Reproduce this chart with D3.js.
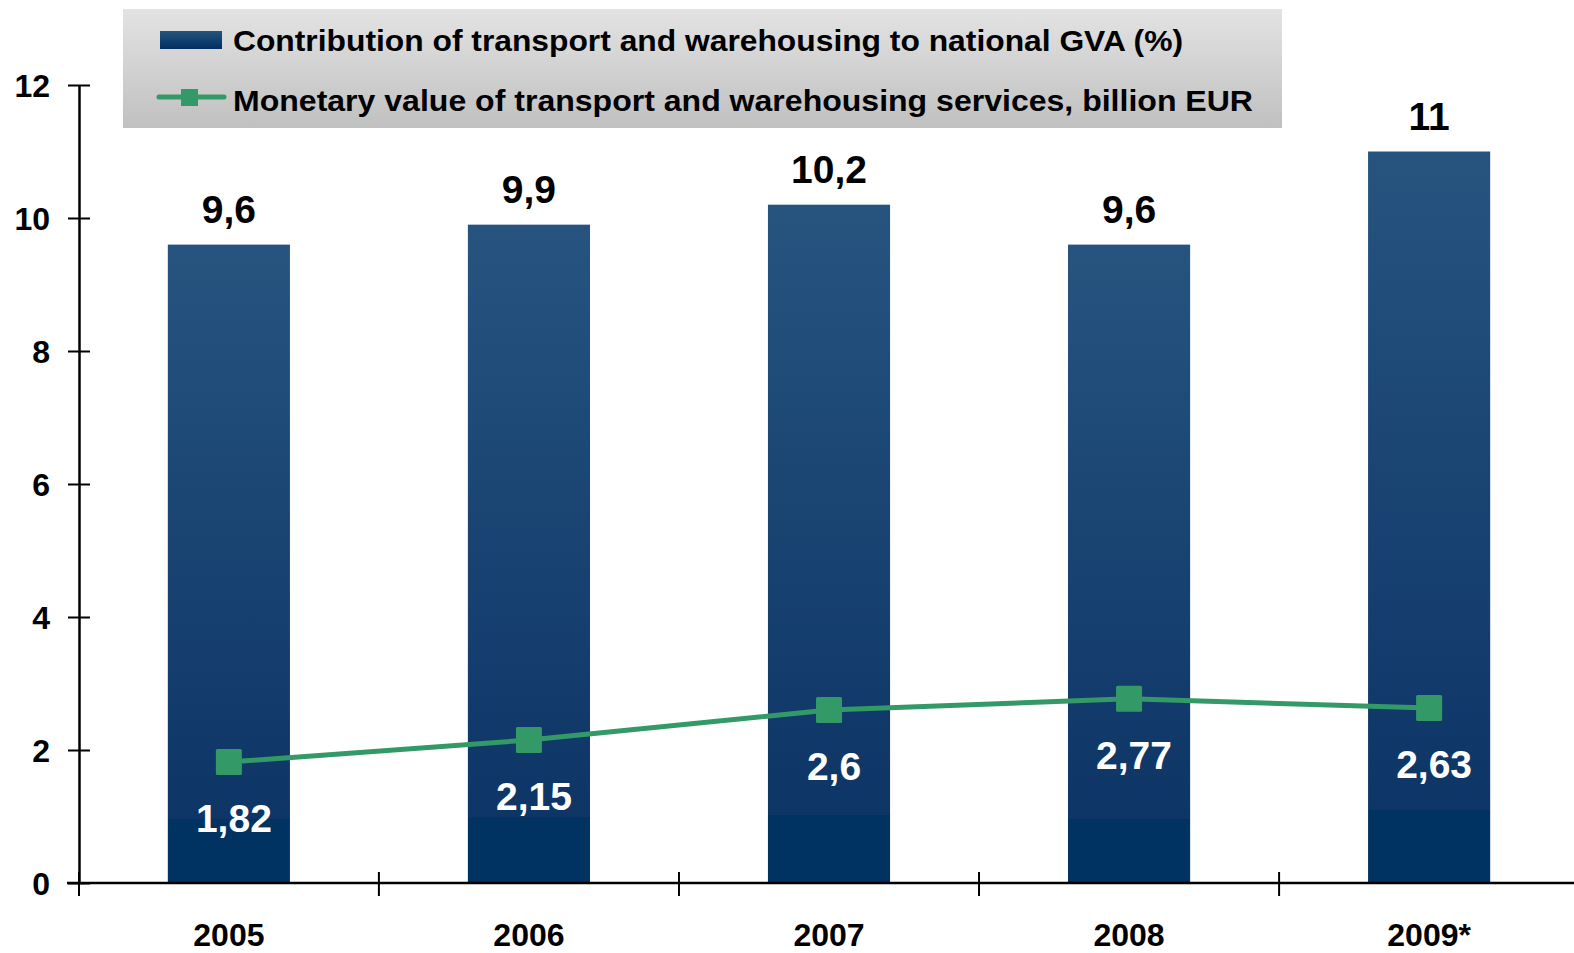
<!DOCTYPE html>
<html>
<head>
<meta charset="utf-8">
<script src="https://cdn.jsdelivr.net/npm/d3@7"></script>
<style>
  body { margin: 0; background: #fff; }
  svg { display: block; font-family: "Liberation Sans", Arial, sans-serif; font-weight: bold; }
</style>
</head>
<body>
<div id="chart"></div>
<script>
const width = 1574
const height = 953
const margin = ({top: 85, right: -5, bottom: 70, left: 79})

const years = ["2005", "2006", "2007", "2008", "2009*"]
const gvaShare = [9.6, 9.9, 10.2, 9.6, 11]
const gvaLabels = ["9,6", "9,9", "10,2", "9,6", "11"]
const monetary = [1.82, 2.15, 2.6, 2.77, 2.63]
const monetaryLabels = ["1,82", "2,15", "2,6", "2,77", "2,63"]
const yTicks = [0, 2, 4, 6, 8, 10, 12]
const legendNames = [
  "Contribution of transport and warehousing to national GVA (%)",
  "Monetary value of transport and warehousing services, billion EUR"
]

const lineColor = "#339966"

const y = d3.scaleLinear()
  .domain([0, 12])
  .range([height - margin.bottom, margin.top])

const x = d3.scaleBand()
  .domain(years)
  .range([margin.left, width - margin.right])
  .paddingInner(0.593)
  .paddingOuter(0.296)

const svg = d3.select("#chart")
  .append("svg")
  .attr("width", width)
  .attr("height", height)
  .attr("viewBox", [0, 0, width, height])

const defs = svg.append("defs")
const barGrad = defs.append("linearGradient")
  .attr("id", "barGrad")
  .attr("x1", 0).attr("y1", 0).attr("x2", 0).attr("y2", 1)
barGrad.append("stop").attr("offset", "0%").attr("stop-color", "#26547f")
barGrad.append("stop").attr("offset", "90%").attr("stop-color", "#0d3566")
barGrad.append("stop").attr("offset", "90%").attr("stop-color", "#003262")
barGrad.append("stop").attr("offset", "100%").attr("stop-color", "#003262")

const legGrad = defs.append("linearGradient")
  .attr("id", "legGrad")
  .attr("x1", 0).attr("y1", 0).attr("x2", 0).attr("y2", 1)
legGrad.append("stop").attr("offset", "0%").attr("stop-color", "#e3e3e3")
legGrad.append("stop").attr("offset", "100%").attr("stop-color", "#c0c0c0")

const swatchGrad = defs.append("linearGradient")
  .attr("id", "swatchGrad")
  .attr("x1", 0).attr("y1", 0).attr("x2", 0).attr("y2", 1)
swatchGrad.append("stop").attr("offset", "0%").attr("stop-color", "#26547f")
swatchGrad.append("stop").attr("offset", "100%").attr("stop-color", "#002f60")

// bars
svg.append("g")
  .selectAll("rect")
  .data(years)
  .join("rect")
    .attr("fill", "url(#barGrad)")
    .attr("x", d => x(d))
    .attr("y", (d, i) => y(gvaShare[i]))
    .attr("width", x.bandwidth())
    .attr("height", (d, i) => y(0) - y(gvaShare[i]))

// bar value labels
svg.append("g")
  .selectAll("text")
  .data(years)
  .join("text")
    .attr("x", d => x(d) + x.bandwidth() / 2)
    .attr("y", (d, i) => y(gvaShare[i]) - 22)
    .attr("text-anchor", "middle")
    .attr("font-size", 39)
    .attr("fill", "#000")
    .text((d, i) => gvaLabels[i])

// axes
const yAxis = g => g
  .attr("transform", `translate(${margin.left},0)`)
  .call(d3.axisLeft(y).tickValues(yTicks).tickSize(11).tickSizeOuter(0).tickPadding(18))
  .call(g => g.select(".domain").attr("stroke", "#000").attr("stroke-width", 2.5))
  .call(g => g.selectAll(".tick line").attr("x1", 11).attr("stroke", "#000").attr("stroke-width", 2))
  .call(g => g.selectAll(".tick text")
    .attr("font-size", 32)
    .attr("font-family", "Liberation Sans, Arial, sans-serif")
    .attr("font-weight", "bold")
    .attr("fill", "#000")
    .attr("dy", "0.36em"))

const boundaries = years.map(d => x(d) - x.step() * x.paddingInner() / 2)
boundaries[0] = margin.left

const xAxis = g => g
  .attr("transform", `translate(0,${y(0)})`)
  .call(d3.axisBottom(x).tickSize(0).tickSizeOuter(0).tickPadding(50))
  .call(g => g.select(".domain").attr("stroke", "#000").attr("stroke-width", 2.5)
    .attr("d", `M${margin.left - 12},0H${width + 5}`))
  .call(g => g.selectAll(".tick text")
    .attr("font-size", 32)
    .attr("font-family", "Liberation Sans, Arial, sans-serif")
    .attr("font-weight", "bold")
    .attr("fill", "#000")
    .attr("dy", "0.42em"))
  .call(g => g.selectAll(".xtick")
    .data(boundaries)
    .join("line")
      .attr("class", "xtick")
      .attr("x1", d => d).attr("x2", d => d)
      .attr("y1", -11).attr("y2", 13)
      .attr("stroke", "#000").attr("stroke-width", 2))

svg.append("g").attr("class", "yaxis").call(yAxis)
svg.append("g").attr("class", "xaxis").call(xAxis)

// line series
const line = d3.line()
  .x((d, i) => x(years[i]) + x.bandwidth() / 2)
  .y(d => y(d))

svg.append("path")
  .datum(monetary)
  .attr("fill", "none")
  .attr("stroke", lineColor)
  .attr("stroke-width", 5)
  .attr("d", line)

svg.append("g")
  .selectAll("rect")
  .data(monetary)
  .join("rect")
    .attr("x", (d, i) => x(years[i]) + x.bandwidth() / 2 - 13)
    .attr("y", d => y(d) - 13)
    .attr("width", 26)
    .attr("height", 26)
    .attr("rx", 1.5)
    .attr("fill", lineColor)

svg.append("g")
  .selectAll("text")
  .data(monetary)
  .join("text")
    .attr("x", (d, i) => x(years[i]) + x.bandwidth() / 2 + 5)
    .attr("y", d => y(d) + 70)
    .attr("text-anchor", "middle")
    .attr("font-size", 39)
    .attr("fill", "#fff")
    .text((d, i) => monetaryLabels[i])

// legend
const legend = svg.append("g")
legend.append("rect")
  .attr("x", 123).attr("y", 9)
  .attr("width", 1159).attr("height", 119)
  .attr("fill", "url(#legGrad)")

legend.append("rect")
  .attr("x", 160).attr("y", 31)
  .attr("width", 62).attr("height", 18)
  .attr("fill", "url(#swatchGrad)")

legend.append("line")
  .attr("x1", 159).attr("x2", 224)
  .attr("y1", 97).attr("y2", 97)
  .attr("stroke", lineColor)
  .attr("stroke-width", 5)
  .attr("stroke-linecap", "round")
legend.append("rect")
  .attr("x", 181).attr("y", 89)
  .attr("width", 17).attr("height", 17)
  .attr("fill", lineColor)

legend.selectAll("text.leg")
  .data(legendNames)
  .join("text")
    .attr("class", "leg")
    .attr("x", 233)
    .attr("y", (d, i) => 51 + i * 60)
    .attr("font-size", 30)
    .attr("fill", "#000")
    .attr("textLength", (d, i) => i === 0 ? 950 : 1020)
    .attr("lengthAdjust", "spacingAndGlyphs")
    .text(d => d)
</script>
</body>
</html>
